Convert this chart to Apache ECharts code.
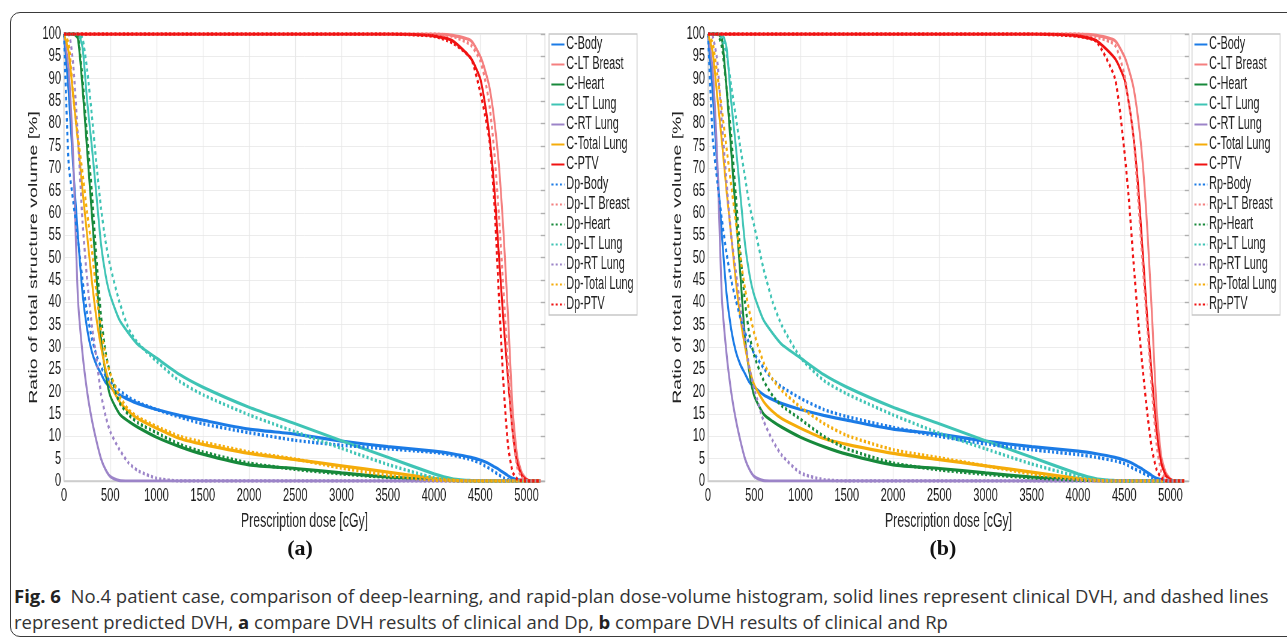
<!DOCTYPE html>
<html>
<head>
<meta charset="utf-8">
<script src="https://cdn.jsdelivr.net/npm/echarts@6/dist/echarts.min.js"></script>
<style>
  html, body { margin: 0; padding: 0; width: 1287px; height: 638px; overflow: hidden; background: #fff; }
  #frame { position: absolute; left: 10px; top: 12px; width: 1320px; height: 623px; border: 1px solid #3a3a3a; border-radius: 10px; }
  /* the figure panels are horizontally squeezed, like the reference image */
  #chart { position: absolute; left: 0; top: 0; width: 2145px; height: 575px; transform: scaleX(0.6); transform-origin: 0 0; }
  .tag { position: absolute; top: 535px; width: 60px; text-align: center; font: bold 22px "Liberation Serif", serif; color: #111; }
  #caption { position: absolute; left: 14px; top: 583px; width: 1275px; font-family: "Open Sans", sans-serif; font-size: 18.5px; line-height: 26px; color: #333; white-space: nowrap; }
  #caption b { color: #222; }
</style>
</head>
<body>
<div id="frame"></div>
<div id="chart"></div>
<div class="tag" style="left:270px">(a)</div>
<div class="tag" style="left:913px">(b)</div>
<div id="caption"><b>Fig. 6</b>&nbsp; No.4 patient case, comparison of deep-learning, and rapid-plan dose-volume histogram, solid lines represent clinical DVH, and dashed lines<br>represent predicted DVH, <b>a</b> compare DVH results of clinical and Dp, <b>b</b> compare DVH results of clinical and Rp</div>
<script>
// dose grid [cGy], shared by every curve
const dose = [0, 50, 100, 150, 200, 250, 300, 350, 400, 450,
  500, 600, 700, 800, 1000, 1250, 1500, 2000, 2500, 3000,
  3500, 4000, 4200, 4400, 4500, 4550, 4600, 4650, 4700, 4750,
  4800, 4850, 4900, 4950, 5000, 5050, 5100, 5150]

// clinical (solid)
const cBody = [100, 87, 70, 55, 42, 34, 29, 26, 24, 22,
  21, 19.3, 18.2, 17.3, 16, 14.7, 13.6, 11.6, 10.5, 8.9,
  7.7, 6.7, 6.1, 5.3, 4.7, 4.3, 3.8, 3.2, 2.6, 1.9,
  1.2, 0.6, 0.3, 0.1, 0, 0, 0, 0]
const cBreast = [100, 100, 100, 100, 100, 100, 100, 100, 100, 100,
  100, 100, 100, 100, 100, 100, 100, 100, 100, 100,
  100, 100, 99.7, 98.5, 95, 92, 88, 81, 71, 56,
  37, 16, 5.5, 1.8, 0.4, 0, 0, 0]
const cHeart = [100, 100, 100, 99, 88, 74, 60, 46, 32, 24,
  19, 15, 13.3, 12, 9.8, 7.7, 6, 3.6, 2.8, 1.8,
  0.9, 0.3, 0.1, 0, 0, 0, 0, 0, 0, 0,
  0, 0, 0, 0, 0, 0, 0, 0]
const cLtLung = [100, 100, 100, 100, 97, 85, 75, 64, 53, 46,
  41.5, 36, 33, 30.5, 27.5, 23.8, 21, 16.5, 12.8, 9,
  5.3, 1.6, 0.5, 0.1, 0, 0, 0, 0, 0, 0,
  0, 0, 0, 0, 0, 0, 0, 0]
const cRtLung = [100, 92, 72, 41, 28.5, 20, 13.8, 9, 5, 2.5,
  1, 0.1, 0, 0, 0, 0, 0, 0, 0, 0,
  0, 0, 0, 0, 0, 0, 0, 0, 0, 0,
  0, 0, 0, 0, 0, 0, 0, 0]
const cTotLung = [100, 96, 86, 76, 65, 55, 45, 36.5, 30, 25,
  21.5, 17.8, 15.5, 13.9, 11.8, 9.5, 8.2, 6.2, 4.8, 3.4,
  2, 0.6, 0.2, 0, 0, 0, 0, 0, 0, 0,
  0, 0, 0, 0, 0, 0, 0, 0]
const cPtv = [100, 100, 100, 100, 100, 100, 100, 100, 100, 100,
  100, 100, 100, 100, 100, 100, 100, 100, 100, 100,
  100, 99.6, 98.5, 94.5, 90, 84.5, 77, 66, 51, 36,
  23, 11, 4, 1.2, 0.3, 0, 0, 0]

// deep-learning prediction (dotted, panel a)
const dpBody = [100, 71, 62.5, 54, 45, 37.5, 32, 28.2, 25.5, 23.5,
  22.3, 20.3, 18.7, 17.6, 16, 14.3, 12.8, 10.8, 9.1, 8,
  7.2, 6.4, 5.8, 4.8, 4, 3.4, 2.8, 2.1, 1.4, 0.7,
  0.3, 0.1, 0, 0, 0, 0, 0, 0]
const dpBreast = [100, 100, 100, 100, 100, 100, 100, 100, 100, 100,
  100, 100, 100, 100, 100, 100, 100, 100, 100, 100,
  100, 100, 99.5, 97.5, 94, 90, 84, 74, 60, 43,
  26, 11, 3, 0.8, 0.1, 0, 0, 0]
const dpHeart = [100, 100, 100, 99.5, 90, 77, 65, 50, 37, 28.7,
  24, 17.5, 14.8, 13, 10.8, 8.2, 6.5, 4, 2.6, 1.6,
  0.8, 0.2, 0.1, 0, 0, 0, 0, 0, 0, 0,
  0, 0, 0, 0, 0, 0, 0, 0]
const dpLtLung = [100, 100, 100, 100, 99, 92, 82, 71, 61, 53.5,
  48, 40, 34, 30.8, 26.8, 22.3, 19.3, 14.8, 11, 7.3,
  3.7, 0.7, 0.2, 0, 0, 0, 0, 0, 0, 0,
  0, 0, 0, 0, 0, 0, 0, 0]
const dpRtLung = [100, 100, 93, 77, 58, 45, 35, 27.5, 19.5, 14.5,
  11, 7, 4, 2.3, 0.6, 0, 0, 0, 0, 0,
  0, 0, 0, 0, 0, 0, 0, 0, 0, 0,
  0, 0, 0, 0, 0, 0, 0, 0]
const dpTotLung = [100, 98, 86, 77, 69, 60, 52, 42, 34, 28,
  24, 19, 15.9, 14.3, 12.2, 10, 8.7, 6.5, 4.9, 2.9,
  1.3, 0.2, 0.1, 0, 0, 0, 0, 0, 0, 0,
  0, 0, 0, 0, 0, 0, 0, 0]
const dpPtv = [100, 100, 100, 100, 100, 100, 100, 100, 100, 100,
  100, 100, 100, 100, 100, 100, 100, 100, 100, 100,
  100, 99.5, 98, 94.5, 87, 82, 76, 63, 42, 22,
  8, 2, 0.4, 0.1, 0, 0, 0, 0]

// rapid-plan prediction (dotted, panel b)
const rpBody = [100, 77, 67, 58.5, 51, 45, 40.5, 36.5, 33.2, 30.5,
  28.5, 25.3, 22.7, 21, 18.5, 16, 14.4, 12, 10, 8.3,
  7, 5.9, 5.3, 4.5, 3.9, 3.4, 2.8, 2.3, 1.8, 1.3,
  0.7, 0.2, 0, 0, 0, 0, 0, 0]
const rpBreast = [100, 100, 100, 100, 100, 100, 100, 100, 100, 100,
  100, 100, 100, 100, 100, 100, 100, 100, 100, 100,
  100, 100, 99.3, 97.5, 91, 84.5, 77, 63, 48, 34,
  20, 8, 2, 0.5, 0, 0, 0, 0]
const rpHeart = [100, 100, 100, 97, 88, 77.5, 64, 51, 40, 32.4,
  28, 22.5, 19, 16.8, 13.8, 10, 7.2, 4, 2.5, 1.5,
  0.7, 0.2, 0.1, 0, 0, 0, 0, 0, 0, 0,
  0, 0, 0, 0, 0, 0, 0, 0]
const rpLtLung = [100, 100, 100, 99, 95.5, 88.5, 81.5, 74.5, 68, 61.5,
  57, 47.5, 40, 34.7, 27.6, 22.5, 19.5, 14.8, 10.7, 7.2,
  3.8, 1, 0.3, 0, 0, 0, 0, 0, 0, 0,
  0, 0, 0, 0, 0, 0, 0, 0]
const rpRtLung = [100, 99.5, 94, 80, 67, 55, 47, 39, 31.5, 25,
  20.5, 13.5, 9, 5.7, 1.8, 0.3, 0, 0, 0, 0,
  0, 0, 0, 0, 0, 0, 0, 0, 0, 0,
  0, 0, 0, 0, 0, 0, 0, 0]
const rpTotLung = [100, 98, 91, 83, 74.5, 66.3, 58, 50, 43, 37.6,
  33, 26.5, 22.7, 20.2, 16.5, 12.9, 10.2, 7, 5.2, 3.4,
  1.6, 0.4, 0.1, 0, 0, 0, 0, 0, 0, 0,
  0, 0, 0, 0, 0, 0, 0, 0]
const rpPtv = [100, 100, 100, 100, 100, 100, 100, 100, 100, 100,
  100, 100, 100, 100, 100, 100, 100, 100, 100, 100,
  100, 99.5, 98.3, 90, 74, 63, 49, 36, 25, 15,
  7, 2.5, 0.7, 0.1, 0, 0, 0, 0]

const structures = ['Body', 'LT Breast', 'Heart', 'LT Lung', 'RT Lung', 'Total Lung', 'PTV']
const colors = ['#1b7be6', '#f47f7f', '#17893b', '#3fc4b5', '#9c84c8', '#f5ac0a', '#f01212']
const clinical = [cBody, cBreast, cHeart, cLtLung, cRtLung, cTotLung, cPtv]
const deep = [dpBody, dpBreast, dpHeart, dpLtLung, dpRtLung, dpTotLung, dpPtv]
const rapid = [rpBody, rpBreast, rpHeart, rpLtLung, rpRtLung, rpTotLung, rpPtv]

const FONT = '"Liberation Sans", Arial, sans-serif'
const S = 0.6 // horizontal squeeze of the chart div
const sx = v => v / S

const panels = [
  { left: 64, prefix: 'Dp', pred: deep, legendLeft: 549 },
  { left: 708, prefix: 'Rp', pred: rapid, legendLeft: 1192 }
]

function pairs(vals) {
  return dose.map((d, i) => [d, vals[i]])
}

const chart = echarts.init(document.getElementById('chart'))

const grid = []
const xAxis = []
const yAxis = []
const legend = []
const series = []

panels.forEach((p, g) => {
  grid.push({ left: sx(p.left), top: 34, width: sx(481), height: 447, show: true, borderColor: '#cdcdcd', borderWidth: 1.4 })
  xAxis.push({
    type: 'value', gridIndex: g, min: 0, max: 5200, interval: 500,
    name: 'Prescription dose [cGy]', nameLocation: 'middle', nameGap: 30,
    nameTextStyle: { fontFamily: FONT, fontSize: 20.5, color: '#222' },
    axisLine: { show: true, lineStyle: { color: '#cdcdcd', width: 1.4 } },
    axisTick: { show: false },
    axisLabel: { fontFamily: FONT, fontSize: 18.5, color: '#1a1a1a', margin: 5, showMaxLabel: false, formatter: v => String(v) },
    splitLine: { lineStyle: { color: '#e8e8e8', width: 1.4 } }
  })
  yAxis.push({
    type: 'value', gridIndex: g, min: 0, max: 100, interval: 5,
    name: 'Ratio of total structure volume [%]', nameLocation: 'middle', nameGap: 40,
    nameTextStyle: { fontFamily: FONT, fontSize: 19.5, color: '#222' },
    axisLine: { show: true, lineStyle: { color: '#cdcdcd', width: 1.4 } },
    axisTick: { show: false },
    axisLabel: { fontFamily: FONT, fontSize: 18.5, color: '#1a1a1a', margin: 5 },
    splitLine: { lineStyle: { color: '#ececec' } }
  })
  yAxis.push({
    type: 'value', gridIndex: g, min: 0, max: 100, interval: 5, position: 'right',
    axisLine: { show: false },
    axisTick: { show: true, inside: true, length: 7, lineStyle: { color: '#b0b0b0', width: 1.4 } },
    axisLabel: { show: false },
    splitLine: { show: false }
  })

  const names = []
  structures.forEach((s, k) => {
    names.push('C-' + s)
    series.push({
      name: 'C-' + s, type: 'line', xAxisIndex: g, yAxisIndex: g * 2,
      data: pairs(clinical[k]), symbol: 'none', smooth: 0.2,
      lineStyle: { color: colors[k], width: 3.2 }, itemStyle: { color: colors[k] }
    })
  })
  structures.forEach((s, k) => {
    names.push(p.prefix + '-' + s)
    series.push({
      name: p.prefix + '-' + s, type: 'line', xAxisIndex: g, yAxisIndex: g * 2,
      data: pairs(p.pred[k]), symbol: 'none', smooth: 0.2,
      lineStyle: { color: colors[k], width: 3.4, type: [3.5, 3.5] }, itemStyle: { color: colors[k] }
    })
  })

  legend.push({
    data: names, orient: 'vertical', left: sx(p.legendLeft), top: 34,
    itemWidth: sx(13), itemHeight: 8, itemGap: 1,
    itemStyle: { opacity: 0 },
    padding: [1, 6, 1, 3], borderColor: '#c8c8c8', borderWidth: 1.4, backgroundColor: '#fff',
    textStyle: { fontFamily: FONT, fontSize: 18, lineHeight: 19, color: '#222', padding: [0, 0, 0, -2] }
  })
})

chart.setOption({
  animation: false,
  grid: grid,
  xAxis: xAxis,
  yAxis: yAxis,
  legend: legend,
  series: series
})
</script>
</body>
</html>
